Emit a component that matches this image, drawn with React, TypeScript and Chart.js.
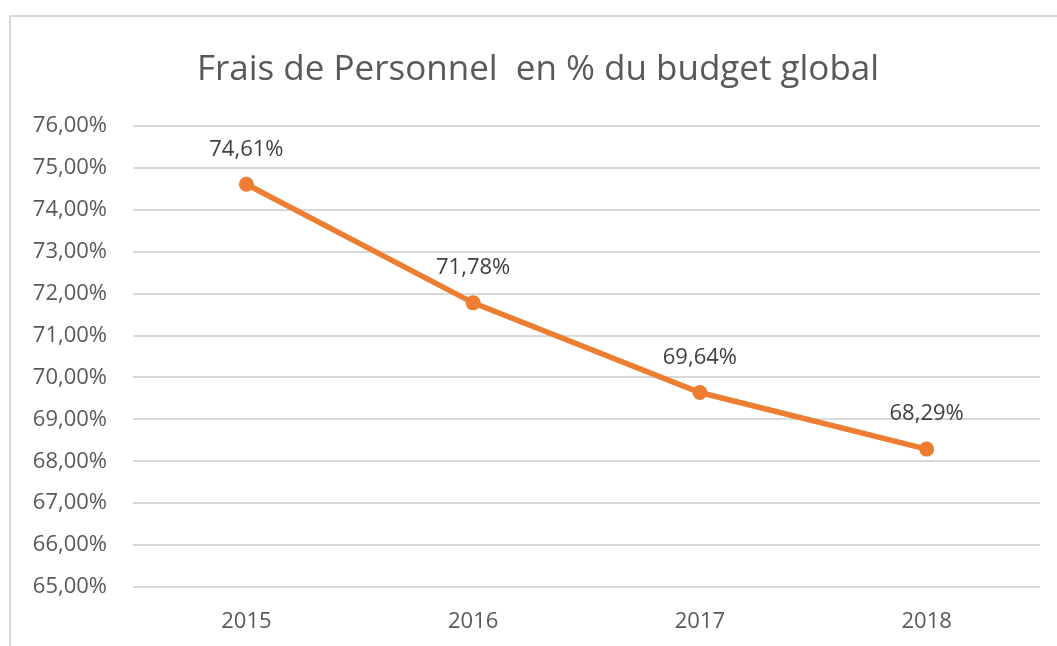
import React, { useEffect, useRef } from "react";
import { Chart, registerables } from "chart.js";

Chart.register(...registerables);

const categories = ["2015", "2016", "2017", "2018"];
const values = [74.61, 71.78, 69.64, 68.29];
const yMin = 65;
const yMax = 76;
const titleText = "Frais de Personnel  en % du budget global";

const FONT = "'Open Sans', 'Noto Sans', sans-serif";

const fmt = (v: number) => v.toFixed(2).replace(".", ",") + "%";

const borderPlugin = {
  id: "frameBorder",
  beforeDraw(chart: any) {
    const ctx = chart.ctx;
    ctx.save();
    ctx.fillStyle = "#ffffff";
    ctx.fillRect(0, 0, chart.width, chart.height);
    ctx.strokeStyle = "#d9d9d9";
    ctx.lineWidth = 2;
    ctx.beginPath();
    ctx.moveTo(10, chart.height);
    ctx.lineTo(10, 16);
    ctx.lineTo(chart.width, 16);
    ctx.stroke();
    ctx.restore();
  },
  afterDraw(chart: any) {
    const ctx = chart.ctx;
    ctx.save();
    ctx.font = `35px ${FONT}`;
    ctx.fillStyle = "#595959";
    ctx.textAlign = "center";
    ctx.textBaseline = "middle";
    ctx.fillText(titleText, 538, 70);
    ctx.restore();
  },
};

const labelPlugin = {
  id: "pointLabels",
  afterDatasetsDraw(chart: any) {
    const ctx = chart.ctx;
    const meta = chart.getDatasetMeta(0);
    ctx.save();
    ctx.font = `22px ${FONT}`;
    ctx.fillStyle = "#404040";
    ctx.textAlign = "center";
    ctx.textBaseline = "middle";
    meta.data.forEach((pt: any, i: number) => {
      ctx.fillText(fmt(values[i]), pt.x, pt.y - 35);
    });
    ctx.restore();
  },
};

export default function App() {
  const ref = useRef<HTMLCanvasElement | null>(null);
  useEffect(() => {
    document.body.style.margin = "0";
    const chart = new Chart(ref.current!, {
      type: "line",
      data: {
        labels: categories,
        datasets: [
          {
            data: values,
            borderColor: "#ED7D31",
            backgroundColor: "#ED7D31",
            borderWidth: 5.5,
            pointRadius: 7.5,
            pointBackgroundColor: "#ED7D31",
            pointBorderWidth: 0,
            tension: 0,
          },
        ],
      },
      options: {
        animation: false,
        responsive: false,
        layout: { padding: { left: 0, right: 17, top: 0, bottom: 0 } },
        plugins: {
          legend: { display: false },
          tooltip: { enabled: false },
          title: {
            display: true,
            text: titleText,
            color: "rgba(0,0,0,0)",
            font: { family: FONT, size: 35, weight: "normal", lineHeight: 1.2 },
            padding: { top: 49, bottom: 35 },
          },
        },
        scales: {
          x: {
            offset: true,
            grid: { display: false, drawTicks: false },
            border: { display: false },
            ticks: {
              color: "#595959",
              font: { family: FONT, size: 22 },
              padding: 22,
              maxRotation: 0,
            },
            afterFit(scale: any) {
              scale.height = 59;
            },
          },
          y: {
            min: yMin,
            max: yMax,
            grid: { color: "#d9d9d9", lineWidth: 2, drawTicks: false },
            border: { display: false },
            ticks: {
              stepSize: 1,
              color: "#595959",
              font: { family: FONT, size: 22 },
              padding: 26,
              callback: (v: any) => fmt(Number(v)),
            },
            afterFit(scale: any) {
              scale.width = 133;
            },
          },
        },
      },
      plugins: [borderPlugin, labelPlugin],
    });
    return () => chart.destroy();
  }, []);
  return <canvas ref={ref} width={1057} height={646} style={{ display: "block" }} />;
}
